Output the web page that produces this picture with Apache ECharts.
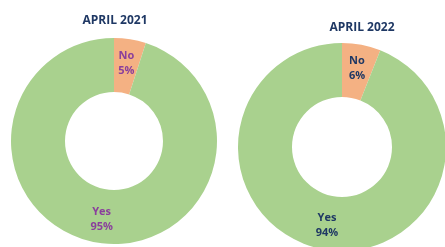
<!DOCTYPE html>
<html>
<head>
<meta charset="utf-8">
<script src="https://cdn.jsdelivr.net/npm/echarts@6/dist/echarts.min.js"></script>
<style>
  html, body { margin: 0; padding: 0; background: #fff; }
  #main { width: 445px; height: 247px; }
</style>
</head>
<body>
<div id="main"></div>
<script>
const categories = ["No", "Yes"];
const values2021 = [5, 95];
const values2022 = [6, 94];
const titles = ["APRIL 2021", "APRIL 2022"];

const colors = ["#f4b183", "#a9d18e"];

const myChart = echarts.init(document.getElementById("main"));

function pieData(vals) {
  return categories.map((c, i) => ({
    name: c,
    value: vals[i],
    itemStyle: { color: colors[i] },
  }));
}

function donut(vals, center, radius, labelColor) {
  return {
    type: "pie",
    center: center,
    radius: radius,
    startAngle: 90,
    clockwise: true,
    silent: true,
    data: pieData(vals),
    label: {
      show: true,
      position: "inside",
      formatter: "{b}\n{d}%",
      color: labelColor,
      fontFamily: "Open Sans",
      fontWeight: "bold",
      fontSize: 11,
      lineHeight: 15,
    },
    labelLine: { show: false },
  };
}

const titleStyle = { fontFamily: "Open Sans", fontSize: 12, fontWeight: "bold", color: "#1f3864" };

myChart.setOption({
  animation: false,
  title: [
    { text: titles[0], left: 110, top: 10, textAlign: "center", textStyle: titleStyle },
    { text: titles[1], left: 357, top: 17, textAlign: "center", textStyle: titleStyle },
  ],
  series: [
    donut(values2021, [114, 141], [49, 103], "#8a3f9c"),
    donut(values2022, [342, 147], [50, 104], "#1f3864"),
  ],
});
</script>
</body>
</html>
